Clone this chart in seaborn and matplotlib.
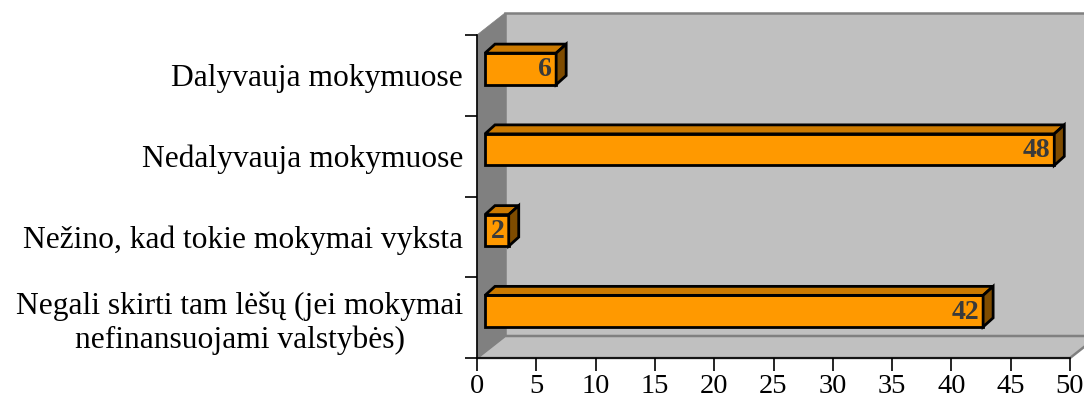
import matplotlib
matplotlib.use("Agg")
import matplotlib.pyplot as plt
import matplotlib.transforms as mtransforms
from matplotlib.patches import Polygon
import seaborn as sns

# data
categories = [
    "Dalyvauja mokymuose",
    "Nedalyvauja mokymuose",
    "Nežino, kad tokie mokymai vyksta",
    "Negali skirti tam lėšų (jei mokymai\nnefinansuojami valstybės)",
]
values = [6, 48, 2, 42]
xticks = list(range(0, 55, 5))

sns.set_style("white")
plt.rcParams["font.family"] = ["Liberation Serif", "DejaVu Serif"]
plt.rcParams["text.color"] = "black"
plt.rcParams["xtick.color"] = "black"
plt.rcParams["ytick.color"] = "black"

DPI = 100
W, H = 1084, 400
fig = plt.figure(figsize=(W / DPI, H / DPI), dpi=DPI)
ax = fig.add_axes([477 / W, 42 / H, 593 / W, 323 / H])
ax.set_facecolor("none")

# depth of the 3D box (pixels) and of the bars
wall_dx, wall_dy = 28, 22
bar_shift_x, bar_shift_y = 8, 6.5
bar_dx, bar_dy = 10, 9

# walls and floor, in display pixels
l, b = 477, H - 358
r, t = 1070, H - 35
ident = mtransforms.IdentityTransform()
back = Polygon([(l + wall_dx, b + wall_dy), (r + wall_dx, b + wall_dy),
                (r + wall_dx, t + wall_dy), (l + wall_dx, t + wall_dy)],
               closed=True, facecolor="#C0C0C0", edgecolor="#808080", lw=1.8,
               transform=ident, clip_on=False, zorder=0)
left = Polygon([(l, b), (l + wall_dx, b + wall_dy), (l + wall_dx, t + wall_dy), (l, t)],
               closed=True, facecolor="#808080", edgecolor="#808080", lw=0.5,
               transform=ident, clip_on=False, zorder=0)
floor = Polygon([(l, b), (r, b), (r + wall_dx, b + wall_dy), (l + wall_dx, b + wall_dy)],
                closed=True, facecolor="#C0C0C0", edgecolor="#808080", lw=1.8,
                transform=ident, clip_on=False, zorder=0)
for p in (back, floor, left):
    ax.add_patch(p)

sns.barplot(x=values, y=categories, orient="h", color="#FF9900", saturation=1,
            edgecolor="black", linewidth=2, width=0.39, ax=ax, zorder=3)

ax.set_xlim(0, 50)
ax.set_ylim(3.5, -0.5)

shift = mtransforms.ScaledTranslation(bar_shift_x / DPI, bar_shift_y / DPI, fig.dpi_scale_trans)
bars = [p for p in ax.patches if p not in (back, floor, left)]
for patch, v in zip(bars, values):
    tr = ax.transData + shift
    patch.set_transform(tr)
    patch.set_clip_on(False)
    x0, y0 = patch.get_x(), patch.get_y()
    (px0, py0), (px1, py1) = tr.transform([(x0, y0), (x0 + patch.get_width(), y0 + patch.get_height())])
    xa, xb = min(px0, px1), max(px0, px1)
    ya, yb = min(py0, py1), max(py0, py1)
    top = Polygon([(xa, yb), (xb, yb), (xb + bar_dx, yb + bar_dy), (xa + bar_dx, yb + bar_dy)],
                  closed=True, facecolor="#CC7A00", edgecolor="black", lw=2,
                  transform=ident, clip_on=False, zorder=4)
    side = Polygon([(xb, ya), (xb + bar_dx, ya + bar_dy), (xb + bar_dx, yb + bar_dy), (xb, yb)],
                   closed=True, facecolor="#7F4C00", edgecolor="black", lw=2,
                   transform=ident, clip_on=False, zorder=4)
    ax.add_patch(top)
    ax.add_patch(side)
    ax.text(xb - 4, (ya + yb) / 2 - 1, str(v), transform=ident, ha="right", va="center",
            fontsize=20, fontweight="bold", color="#3A3A3A", zorder=5)

# axes and ticks
for s in ("top", "right"):
    ax.spines[s].set_visible(False)
for s in ("left", "bottom"):
    ax.spines[s].set_color("black")
    ax.spines[s].set_linewidth(1.2)

ax.set_xticks(xticks)
ax.set_xticklabels([str(x) for x in xticks], fontsize=20.5)
ax.tick_params(axis="x", bottom=True, direction="out", length=9, width=1.2, color="black", pad=2.5)

ax.set_yticks(range(len(categories)))
ax.set_yticklabels(categories, fontsize=22.7)
ax.set_yticks([i - 0.5 for i in range(len(categories) + 1)], minor=True)
ax.tick_params(axis="y", which="major", left=True, length=0, pad=10)
ax.tick_params(axis="y", which="minor", left=True, direction="out", length=9, width=1.2, color="black")
for lbl in ax.get_yticklabels():
    lbl.set_multialignment("center")

ax.set_xlabel("")
ax.set_ylabel("")

fig.savefig("out.png", dpi=DPI)
